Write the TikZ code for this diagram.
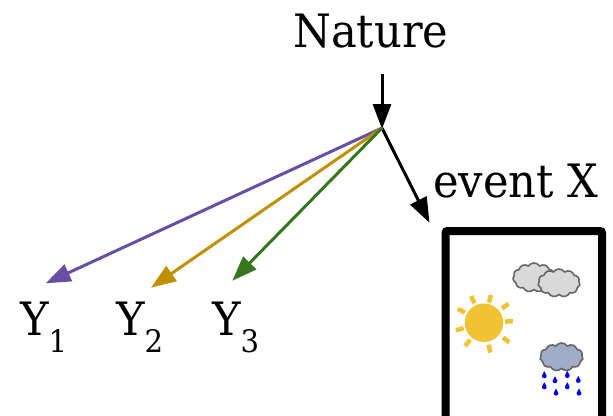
\documentclass[tikz,border=0pt]{standalone}
\usepackage{fontspec}
\setmainfont{DejaVu Serif}[FakeStretch=0.94]
\usetikzlibrary{arrows.meta,calc,shapes.symbols}
\definecolor{cpurple}{HTML}{674EA7}
\definecolor{cgold}{HTML}{BF9000}
\definecolor{cgreen}{HTML}{38761D}
\definecolor{csun}{HTML}{F1C232}
\definecolor{ccloud}{HTML}{D9D9D9}
\definecolor{cedge}{HTML}{666666}
\definecolor{crain}{HTML}{9FAEC6}
\tikzset{
  lbl/.style={inner sep=0pt,anchor=base west,font=\fontsize{46}{50}\selectfont},
  arr/.style={line width=3pt,-{Triangle[length=25pt,width=18pt]}},
  puff/.style={cloud,cloud puffs=11,cloud puff arc=110,draw=cedge,line width=1.6pt,inner sep=0pt,aspect=1.5},
  ray/.style={draw=csun,line width=4.5pt},
  drop/.style={fill=blue,draw=none},
}
\newcommand{\Ysub}[1]{Y\raisebox{-17.5pt}{\fontsize{31}{33}\selectfont #1}}
\newcommand{\raindrop}[2]{\fill[drop] (#1,#2-3.8) .. controls (#1+0.8,#2-1.2) and (#1+2.4,#2-0.4) .. (#1+2.4,#2+1) .. controls (#1+2.4,#2+4) and (#1-2.4,#2+4) .. (#1-2.4,#2+1) .. controls (#1-2.4,#2-0.4) and (#1-0.8,#2-1.2) .. (#1,#2-3.8) -- cycle;}
\begin{document}
\begin{tikzpicture}[x=1pt,y=-1pt]
\useasboundingbox (0,0) rectangle (613,415);
\clip (0,0) rectangle (613,415);
\node[lbl] (nat) at (293,47) {Nature};
\node[lbl] (evt) at (433,197) {event X};
\node[lbl] (y1) at (20,335) {\Ysub{1}};
\node[lbl] (y2) at (116,335) {\Ysub{2}};
\node[lbl] (y3) at (212,335) {\Ysub{3}};
\coordinate (hub) at (382,128);
\coordinate (t1) at (45.7,283.3);
\coordinate (t2) at (151,287.7);
\coordinate (t3) at (232.3,280.7);
\coordinate (tx) at (429.5,222.7);
\draw[arr,shorten <=26pt] (nat.south -| hub) -- ([yshift=-1pt]hub);
\draw[arr] (hub) -- (tx);
\draw[arr,cpurple] (hub) -- (t1);
\draw[arr,cgold] (hub) -- (t2);
\draw[arr,cgreen] (hub) -- (t3);
\draw[line width=8pt,rounded corners=2pt] (445.5,231) rectangle (602,430);
\node[circle,fill=csun,minimum size=38.5pt,inner sep=0pt] (sun) at (484,322.7) {};
\foreach \a/\r in {116/25.6,76/24.7,38/27,3/25,-38/28,-78/26.5,-129/26,-165/25,152/25.7}{
  \draw[ray] ($(sun.center)+(\a:\r pt-4pt)$) -- ($(sun.center)+(\a:\r pt+4pt)$);
}
\node[puff,fill=ccloud,minimum width=42pt,minimum height=29pt] (c1) at (534,277.5) {};
\node[puff,fill=ccloud,minimum width=42pt,minimum height=28pt] (c2) at (559,283) {};
\node[puff,fill=crain,minimum width=43pt,minimum height=28pt] (c3) at (561.5,357) {};
\foreach \px/\py in {344.3/375,343/374}{}
\raindrop{544.3}{375}
\raindrop{555}{380}
\raindrop{567.3}{374.7}
\raindrop{578.3}{379.7}
\raindrop{544.3}{386}
\raindrop{556}{392.3}
\raindrop{567.3}{386}
\raindrop{579}{392.3}
\end{tikzpicture}
\end{document}
